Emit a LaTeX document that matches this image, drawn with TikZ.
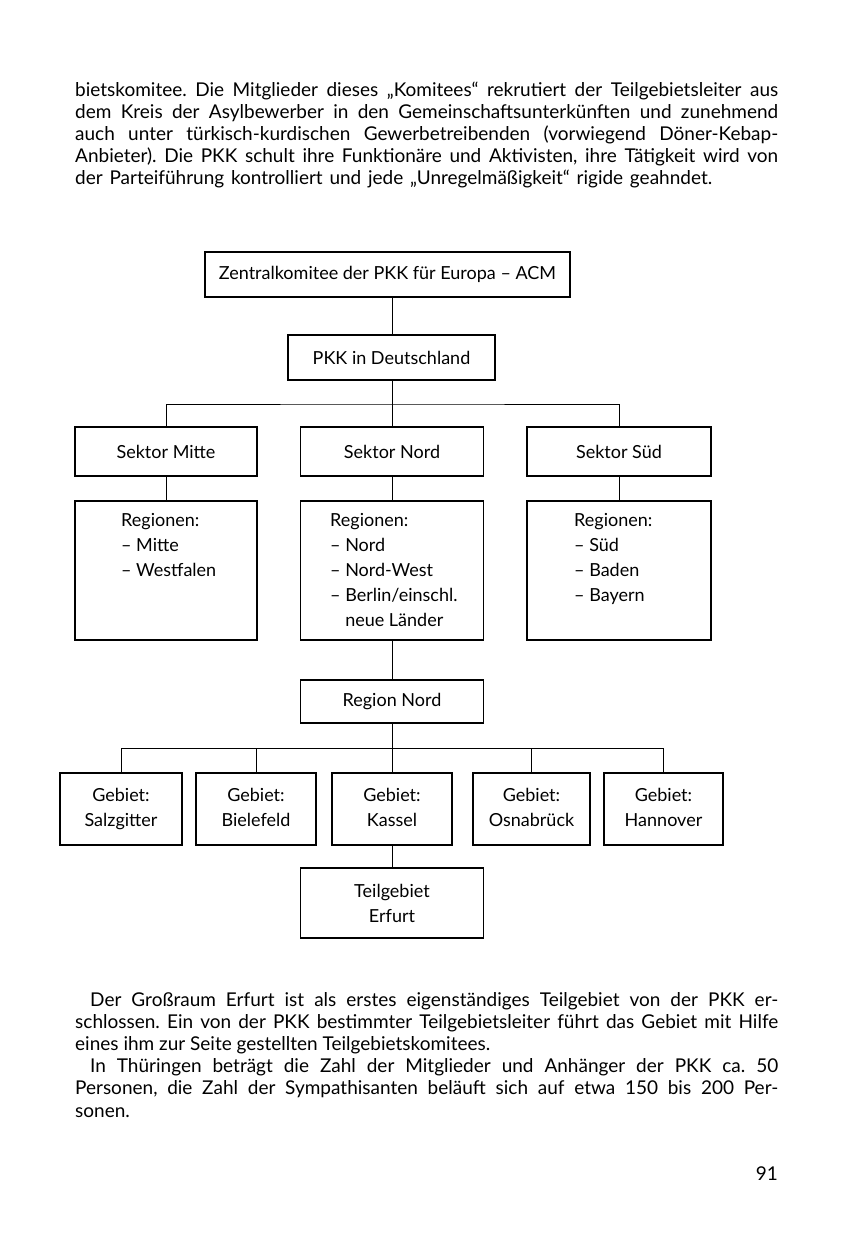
\documentclass[tikz,border=0pt]{standalone}
\usepackage{fontspec}
\setmainfont{Lato}
\newcommand\fs{\fontsize{18}{25}\selectfont}
\newcommand\fp{\fontsize{19}{22}\selectfont\frenchspacing}
\begin{document}
\begin{tikzpicture}[x=1pt,y=-1pt,
  box/.style={draw, line width=1.1pt, inner sep=0pt, align=center, font=\fs},
  conn/.style={line width=1pt},
  ln/.style={anchor=base west, inner sep=0pt, font=\fp},
  rt/.style={anchor=north west, inner sep=0pt, align=left, font=\fs}]
\useasboundingbox[fill=white] (0,0) rectangle (864,1251);
% top paragraph
\node[ln] (t1) at (75,96) {\makebox[703pt][s]{bietskomitee. Die Mitglieder dieses „Komitees“ rekrutiert der Teilgebietsleiter aus}};
\node[ln] (t2) at (75,118) {\makebox[703pt][s]{dem Kreis der Asylbewerber in den Gemeinschaftsunterkünften und zunehmend}};
\node[ln] (t3) at (75,140) {\makebox[703pt][s]{auch unter türkisch-kurdischen Gewerbetreibenden (vorwiegend Döner-Kebap-}};
\node[ln] (t4) at (75,162) {\makebox[703pt][s]{Anbieter). Die PKK schult ihre Funktionäre und Aktivisten, ihre Tätigkeit wird von}};
\node[ln] (t5) at (75,184) {\makebox[637pt][s]{der Parteiführung kontrolliert und jede „Unregelmäßigkeit“ rigide geahndet.}};
% diagram
\coordinate (ax) at (392,0);
\node[box, minimum width=365pt, minimum height=45pt] (Z) at (387.5,274.5) {Zentralkomitee der PKK für Europa – ACM};
\node[box, minimum width=207pt, minimum height=45pt] (P) at (391.5,357.5) {PKK in Deutschland};
\node[box, minimum width=182pt, minimum height=49pt] (SM) at (166,451.5) {Sektor Mitte};
\node[box, minimum width=183pt, minimum height=49pt] (SN) at (392,451.5) {Sektor Nord};
\node[box, minimum width=184pt, minimum height=49pt] (SS) at (619,451.5) {Sektor Süd};
\node[box, minimum width=182pt, minimum height=139pt] (RM) at (166,570.5) {};
\node[box, minimum width=183pt, minimum height=139pt] (RN) at (392,570.5) {};
\node[box, minimum width=184pt, minimum height=139pt] (RS) at (619,570.5) {};
\node[rt] (RMt) at (121,513) {Regionen:\\– Mitte\\– Westfalen};
\node[rt] (RNt) at (330,513) {Regionen:\\– Nord\\– Nord-West\\– Berlin/einschl.\\\hphantom{– }neue Länder};
\node[rt] (RSt) at (574,513) {Regionen:\\– Süd\\– Baden\\– Bayern};
\node[box, minimum width=183pt, minimum height=43pt] (RG) at (392,701.5) {Region Nord};
\node[box, minimum width=122pt, minimum height=72pt] (G1) at (121,809) {Gebiet:\\Salzgitter\vphantom{g}};
\node[box, minimum width=120pt, minimum height=72pt] (G2) at (256,809) {Gebiet:\\Bielefeld\vphantom{g}};
\node[box, minimum width=120pt, minimum height=72pt] (G3) at (392,809) {Gebiet:\\Kassel\vphantom{g}};
\node[box, minimum width=117pt, minimum height=72pt] (G4) at (531.5,809) {Gebiet:\\Osnabrück\vphantom{g}};
\node[box, minimum width=119pt, minimum height=72pt] (G5) at (663.5,809) {Gebiet:\\Hannover\vphantom{g}};
\node[box, minimum width=183pt, minimum height=70pt] (T) at (392,903) {Teilgebiet\\Erfurt};
% connectors
\coordinate (j1) at (392,404);
\coordinate (j2) at (392,748);
\draw[conn] (Z.south -| ax) -- (P.north -| ax);
\draw[conn] (P.south -| ax) -- (j1);
\draw[conn] (SM.north) |- (j1) -| (SS.north);
\draw[conn] (j1) -- (SN.north);
\draw[conn] (SM) -- (RM);
\draw[conn] (SN) -- (RN);
\draw[conn] (SS) -- (RS);
\draw[conn] (RN) -- (RG);
\draw[conn] (RG.south) -- (j2);
\draw[conn] (G1.north) |- (j2) -| (G5.north);
\draw[conn] (G2.north) -- (G2.north |- j2);
\draw[conn] (G4.north) -- (G4.north |- j2);
\draw[conn] (j2) -- (G3.north);
\draw[conn] (G3) -- (T);
% bottom paragraph
\node[ln] (b1) at (75,1006) {\makebox[703pt][s]{\hspace*{15pt}Der Großraum Erfurt ist als erstes eigenständiges Teilgebiet von der PKK er-}};
\node[ln] (b2) at (75,1028) {\makebox[703pt][s]{schlossen. Ein von der PKK bestimmter Teilgebietsleiter führt das Gebiet mit Hilfe}};
\node[ln] (b3) at (75,1050) {eines ihm zur Seite gestellten Teilgebietskomitees.};
\node[ln] (b4) at (75,1072) {\makebox[703pt][s]{\hspace*{15pt}In Thüringen beträgt die Zahl der Mitglieder und Anhänger der PKK ca. 50}};
\node[ln] (b5) at (75,1094) {\makebox[703pt][s]{Personen, die Zahl der Sympathisanten beläuft sich auf etwa 150 bis 200 Per-}};
\node[ln] (b6) at (75,1117) {sonen.};
\node[anchor=base east, inner sep=0pt, font=\fp] (pg) at (778,1180) {91};
\end{tikzpicture}
\end{document}
